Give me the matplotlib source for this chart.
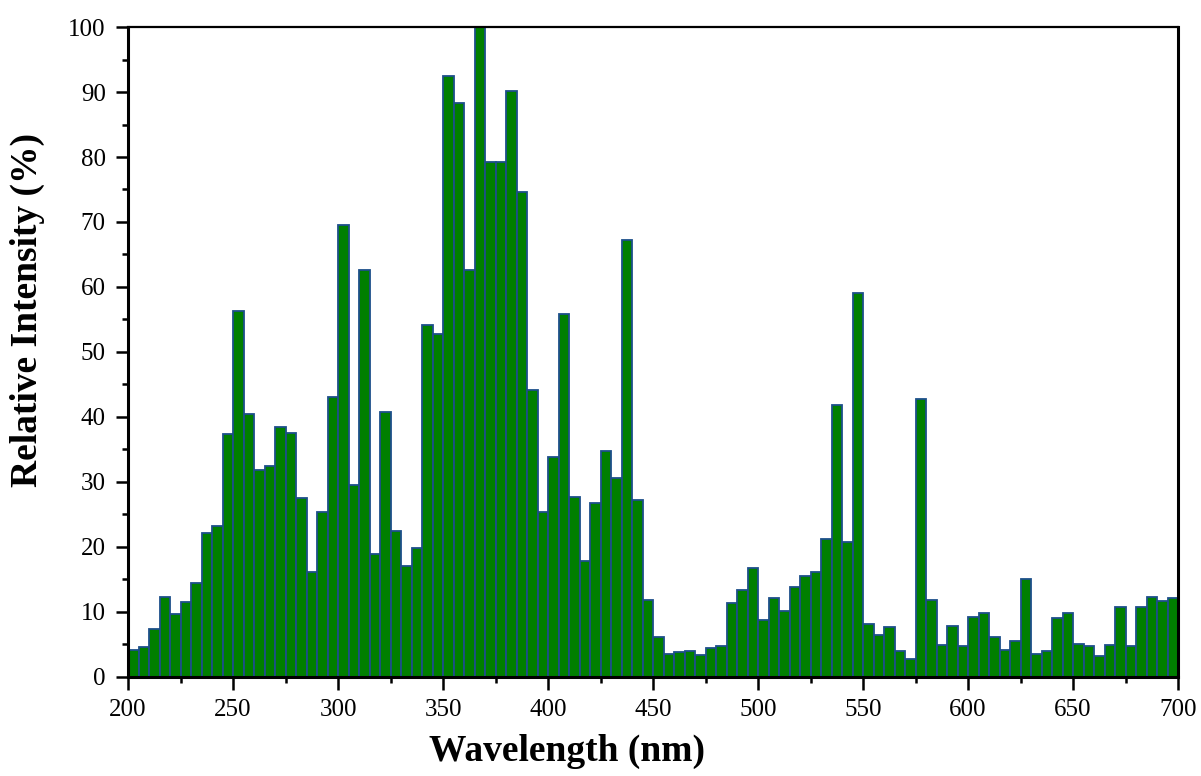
import numpy as np
import matplotlib.pyplot as plt
from matplotlib.ticker import MultipleLocator

# left edge of each 5 nm bin
wavelength = np.arange(200, 700, 5)
intensity = [
    4.2, 4.6, 7.4, 12.3, 9.7, 11.5, 14.4, 22.1, 23.3, 37.4,
    56.3, 40.5, 31.8, 32.5, 38.5, 37.5, 27.6, 16.1, 25.4, 43.0,
    69.6, 29.5, 62.6, 18.9, 40.7, 22.5, 17.1, 19.8, 54.1, 52.8,
    92.4, 88.3, 62.6, 100.0, 79.2, 79.2, 90.1, 74.6, 44.1, 25.4,
    33.8, 55.8, 27.7, 17.9, 26.7, 34.7, 30.6, 67.3, 27.3, 11.9,
    6.2, 3.6, 3.8, 4.0, 3.4, 4.5, 4.7, 11.4, 13.4, 16.7,
    8.8, 12.1, 10.1, 13.8, 15.5, 16.1, 21.2, 41.8, 20.8, 59.1,
    8.1, 6.5, 7.7, 4.0, 2.8, 42.8, 11.9, 4.9, 7.9, 4.7,
    9.3, 9.9, 6.1, 4.2, 5.5, 15.0, 3.6, 4.0, 9.0, 9.9,
    5.0, 4.7, 3.2, 4.9, 10.8, 4.7, 10.8, 12.3, 11.7, 12.1,
]

plt.rcParams['font.family'] = ['Liberation Serif', 'DejaVu Serif']

fig = plt.figure(figsize=(12.01, 7.76), dpi=100)
ax = fig.add_axes([0.1066, 0.1276, 0.8743, 0.8376])

ax.bar(wavelength, intensity, width=5, align='edge', color='#007f00',
       edgecolor='#1d4f8a', linewidth=1.3)

ax.set_xlim(200, 700)
ax.set_ylim(0, 100)
ax.xaxis.set_major_locator(MultipleLocator(50))
ax.xaxis.set_minor_locator(MultipleLocator(25))
ax.yaxis.set_major_locator(MultipleLocator(10))
ax.yaxis.set_minor_locator(MultipleLocator(5))

ax.tick_params(which='major', direction='out', length=9, width=1.8, labelsize=18,
               pad=7, top=False, right=False)
ax.tick_params(which='minor', direction='out', length=4.5, width=1.8,
               top=False, right=False)

for s in ['left', 'bottom', 'right']:
    ax.spines[s].set_linewidth(2.2)
ax.spines['top'].set_linewidth(1.6)

ax.set_xlabel('Wavelength (nm)', fontsize=27, fontweight='bold')
ax.set_ylabel('Relative Intensity (%)', fontsize=27, fontweight='bold')
ax.xaxis.set_label_coords(0.418, -0.088)
ax.yaxis.set_label_coords(-0.079, 0.565)

fig.savefig('out.png', dpi=100)
